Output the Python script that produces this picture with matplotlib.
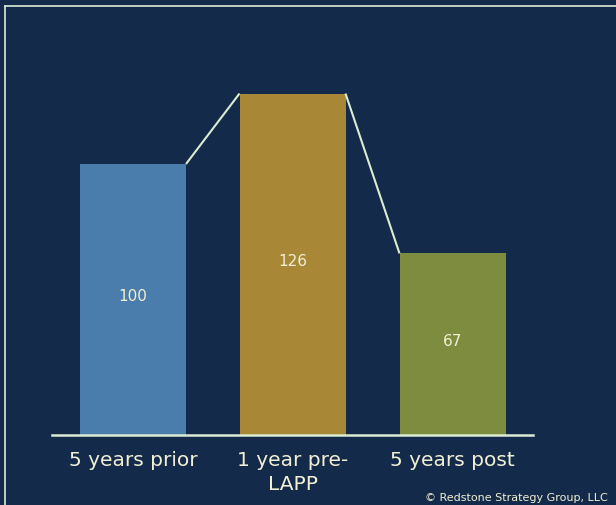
import matplotlib.pyplot as plt
from matplotlib.lines import Line2D

categories = ["5 years prior", "1 year pre-\nLAPP", "5 years post"]
values = [100, 126, 67]
colors = ["#4a7cac", "#a88836", "#7d8c3f"]

BG = "#132a4a"
LINE = "#dcecd2"
TEXT = "#f2f0d4"

W, H = 616, 506
fig = plt.figure(figsize=(W / 100, H / 100), dpi=100, facecolor=BG)

# axes area: baseline at y=436px, bars 80..506 px
x0, x1 = 52, 533
y_base, y_top = 436, 8
ax = fig.add_axes([x0 / W, 1 - y_base / H, (x1 - x0) / W, (y_base - y_top) / H])
ax.set_facecolor(BG)

px_per_unit = 2.71
ax.set_ylim(0, (y_base - y_top) / px_per_unit)
# bar centres at 133, 292.5, 452.5 px, width ~106 px
centres_px = [133, 292.5, 452.5]
unit = (x1 - x0)
xs = [(c - x0) / unit for c in centres_px]
bw = 106 / unit
ax.set_xlim(0, 1)

ax.bar(xs, values, width=bw, color=colors, zorder=2)

# connector lines between bar tops
for i in range(len(values) - 1):
    ax.plot([xs[i] + bw / 2, xs[i + 1] - bw / 2], [values[i], values[i + 1]],
            color=LINE, lw=1.5, zorder=3, solid_capstyle="butt")

for x, v in zip(xs, values):
    ax.text(x, v / 2 + 1.4, str(v), ha="center", va="center", color=TEXT,
            fontsize=11, fontfamily="DejaVu Sans", zorder=4)

for s in ["top", "right", "left"]:
    ax.spines[s].set_visible(False)
ax.spines["bottom"].set_color(LINE)
ax.spines["bottom"].set_linewidth(1.8)
ax.set_yticks([])
ax.set_xticks(xs)
ax.set_xticklabels(categories, color=TEXT, fontsize=14.5, linespacing=1.3)
ax.tick_params(axis="x", length=0, pad=11)

# frame border lines
fig.add_artist(Line2D([4.5 / W, 1], [1 - 7 / H, 1 - 7 / H], color=LINE, lw=1.2,
                      transform=fig.transFigure))
fig.add_artist(Line2D([4.5 / W, 4.5 / W], [0, 1 - 7 / H], color=LINE, lw=1.2,
                      transform=fig.transFigure))

fig.text(608 / W, 1 - 498 / H, "\u00a9 Redstone Strategy Group, LLC", ha="right",
         va="center", color=TEXT, fontsize=8)

fig.savefig("out.png", dpi=100, facecolor=BG)
